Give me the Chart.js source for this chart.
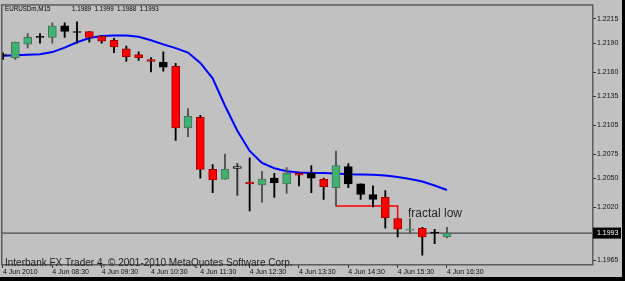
<!DOCTYPE html>
<html><head><meta charset="utf-8">
<script src="https://cdn.jsdelivr.net/npm/chart.js@4.4.0/dist/chart.umd.min.js"></script>
<style>html,body{margin:0;padding:0;background:#c1c1c1;overflow:hidden}#wrap{position:relative;width:625px;height:281px}</style>
</head><body><div id="wrap"><canvas id="c" width="625" height="281"></canvas></div>
<script>
// ---- data (EURUSDm, M15, 4 Jun 2010 07:30 .. 16:30) ----
const symbolTitle = 'EURUSDm,M15';
const openP  = [1.2178,1.2175,1.2189,1.2196,1.2196,1.2208,1.2202,1.2202,1.2197,1.2193,1.2184,1.2178,1.2173,1.2170,1.2166,1.2102,1.2113,1.2059,1.2049,1.2060,1.2046,1.2043,1.2050,1.2044,1.2055,1.2055,1.2049,1.2040,1.2062,1.2044,1.2033,1.2030,1.2008,1.1996,1.1998,1.1993,1.1989];
const highP  = [1.2180,1.2191,1.2200,1.2200,1.2211,1.2211,1.2212,1.2202,1.2198,1.2195,1.2187,1.2181,1.2175,1.2181,1.2169,1.2122,1.2115,1.2064,1.2075,1.2065,1.2071,1.2057,1.2055,1.2061,1.2055,1.2063,1.2050,1.2078,1.2065,1.2044,1.2042,1.2037,1.2008,1.2008,1.1999,1.1997,1.1999];
const lowP   = [1.2173,1.2173,1.2185,1.2190,1.2190,1.2196,1.2190,1.2191,1.2190,1.2180,1.2171,1.2172,1.2160,1.2161,1.2089,1.2093,1.2050,1.2035,1.2049,1.2032,1.2016,1.2025,1.2030,1.2034,1.2042,1.2035,1.2028,1.2021,1.2040,1.2028,1.2020,1.1998,1.1989,1.1993,1.1970,1.1982,1.1988];
const closeP = [1.2177,1.2191,1.2196,1.2196,1.2208,1.2202,1.2201,1.2196,1.2192,1.2186,1.2176,1.2175,1.2171,1.2165,1.2102,1.2114,1.2059,1.2048,1.2059,1.2062,1.2044,1.2049,1.2045,1.2055,1.2053,1.2050,1.2041,1.2063,1.2044,1.2033,1.2028,1.2009,1.1997,1.1997,1.1989,1.1993,1.1993];
const candleKind = ['black','green','green','doji','green','black','black','red','red','red','red','red','red','black','red','green','red','red','green','white','red','green','black','green','red','black','red','green','black','black','black','red','red','green','red','doji','green'];
const maLine = [1.21768,1.21774,1.21778,1.21784,1.21807,1.21853,1.21909,1.21953,1.21974,1.21979,1.21979,1.21966,1.21930,1.21887,1.21848,1.21802,1.21694,1.21535,1.21250,1.20992,1.20782,1.20657,1.20603,1.20572,1.20557,1.20552,1.20552,1.20549,1.20541,1.20538,1.20536,1.20526,1.20511,1.20490,1.20465,1.20424,1.20377];
const fractalFrom = 27, fractalTo = 32;
const xTickIndex  = [0,4,8,12,16,20,24,28,32,36];
const xTickLabels = ['4 Jun 2010','4 Jun 08:30','4 Jun 09:30','4 Jun 10:30','4 Jun 11:30','4 Jun 12:30','4 Jun 13:30','4 Jun 14:30','4 Jun 15:30','4 Jun 16:30'];
const yTickValues = [1.2215,1.2190,1.2160,1.2135,1.2105,1.2075,1.2050,1.2020,1.1965];
const copyrightText = 'Interbank FX Trader 4, \u00A9 2001-2010 MetaQuotes Software Corp.';
const fractalText = 'fractal low';

// ---- styles ----
const fill = {green:'#3cb371', red:'#ff0000', black:'#000000', white:'#ffffff', doji:'#000000'};
const edge = {green:'#4f6f5c', red:'#a00000', black:'#000000', white:'#000000', doji:'#000000'};
const wickCol = {green:'#505050', red:'#000000', black:'#000000', white:'#303030', doji:'#000000'};
const last = closeP.length - 1;
const fractalPrice = lowP[fractalFrom];

const mtPlugin = {
  id:'mt',
  beforeDraw(chart){
    const c = chart.ctx;
    c.save();
    c.fillStyle = '#c1c1c1'; c.fillRect(0,0,chart.width,chart.height);
    c.fillStyle = '#000'; c.fillRect(0,277,chart.width,4); c.fillRect(622,0,3,chart.height);
    c.restore();
  },
  beforeDatasetsDraw(chart){
    const c = chart.ctx, a = chart.chartArea, y = chart.scales.y.getPixelForValue(closeP[last]);
    c.save(); c.strokeStyle = '#4a4a4a'; c.lineWidth = 1.3;
    c.beginPath(); c.moveTo(a.left, y); c.lineTo(a.right, y); c.stroke(); c.restore();
  },
  afterDraw(chart){
    const c = chart.ctx, a = chart.chartArea, xs = chart.scales.x, ys = chart.scales.y;
    c.save();
    // frame
    c.strokeStyle = '#5c5c5c'; c.lineWidth = 1.5;
    c.strokeRect(a.left-0.25, a.top-0.25, a.right-a.left, a.bottom-a.top);
    // title (narrow MT4 style font: regular face squeezed horizontally)
    c.save();
    c.fillStyle = '#000'; c.textBaseline = 'alphabetic'; c.textAlign = 'left';
    c.font = "8px 'Liberation Sans'";
    c.scale(0.78, 1);
    c.fillText(symbolTitle, 5/0.78, 11);
    c.fillText([openP[last],highP[last],lowP[last],closeP[last]].map(v=>v.toFixed(4)).join('  '), 72/0.78, 11);
    c.restore();
    // copyright
    c.fillStyle = '#1e1e1e'; c.font = "10px 'Liberation Sans'"; c.textBaseline = 'alphabetic'; c.textAlign = 'left';
    c.fillText(copyrightText, 5, 266);
    // fractal label
    c.fillStyle = '#262626'; c.font = "12px 'Liberation Sans'";
    c.fillText(fractalText, xs.getPixelForValue(fractalTo+1)-2, ys.getPixelForValue(fractalPrice)+11);
    // current price box
    const py = ys.getPixelForValue(closeP[last]);
    c.fillStyle = '#000'; c.fillRect(a.right, py-5.5, 28, 11);
    c.fillStyle = '#fff'; c.font = "7px 'Liberation Sans'"; c.textBaseline = 'middle';
    c.fillText(closeP[last].toFixed(4), a.right+4, py);
    c.restore();
  }
};

new Chart(document.getElementById('c').getContext('2d'), {
  type:'bar',
  data:{datasets:[
    {type:'line', label:'MA', data: maLine.map((v,i)=>({x:i,y:v})), borderColor:'#0000ff', borderWidth:2, pointRadius:0, tension:0, order:4},
    {type:'line', label:'fractal', data:[{x:fractalFrom,y:fractalPrice},{x:fractalTo,y:fractalPrice},{x:fractalTo,y:highP[fractalTo]}], borderColor:'#ff0000', borderWidth:1.5, pointRadius:0, tension:0, order:3},
    {label:'wicks', data: highP.map((h,i)=>({x:i,y:[lowP[i],h]})), backgroundColor: candleKind.map(k=>wickCol[k]), barThickness:1.2, grouped:false, order:2},
    {label:'bodies', data: openP.map((o,i)=>({x:i,y:[o,closeP[i]]})), backgroundColor: candleKind.map(k=>fill[k]), borderColor: candleKind.map(k=>edge[k]), borderWidth:1, borderSkipped:false, barThickness:8, minBarLength:1, grouped:false, order:1}
  ]},
  options:{
    responsive:false, animation:false, devicePixelRatio:1,
    layout:{padding:{left:2,top:2,right:0,bottom:0}},
    plugins:{legend:{display:false}, tooltip:{enabled:false}},
    scales:{
      x:{type:'linear', min:-0.081, max:47.84, offset:false,
         grid:{display:true, drawOnChartArea:false, drawTicks:true, tickLength:3, tickColor:'#333', offset:false},
         border:{display:false},
         afterBuildTicks(s){ s.ticks = xTickIndex.map(v=>({value:v})); },
         ticks:{autoSkip:false, maxRotation:0, minRotation:0, align:'start', padding:0, color:'#111',
                font:{family:'Liberation Sans', size:7},
                callback:(v)=>{ const k = xTickIndex.indexOf(v); return k>=0 ? xTickLabels[k] : ''; }},
         afterFit(s){ s.height = 16; }},
      y:{position:'right', min:1.19599, max:1.22293,
         grid:{display:true, drawOnChartArea:false, drawTicks:true, tickLength:3, tickColor:'#333'},
         border:{display:false},
         afterBuildTicks(s){ s.ticks = yTickValues.map(v=>({value:v})); },
         ticks:{autoSkip:false, padding:1, color:'#111', font:{family:'Liberation Sans', size:7},
                callback:(v)=>Number(v).toFixed(4)},
         afterFit(s){ s.width = 32; }}
    }
  },
  plugins:[mtPlugin]
});
</script></body></html>
